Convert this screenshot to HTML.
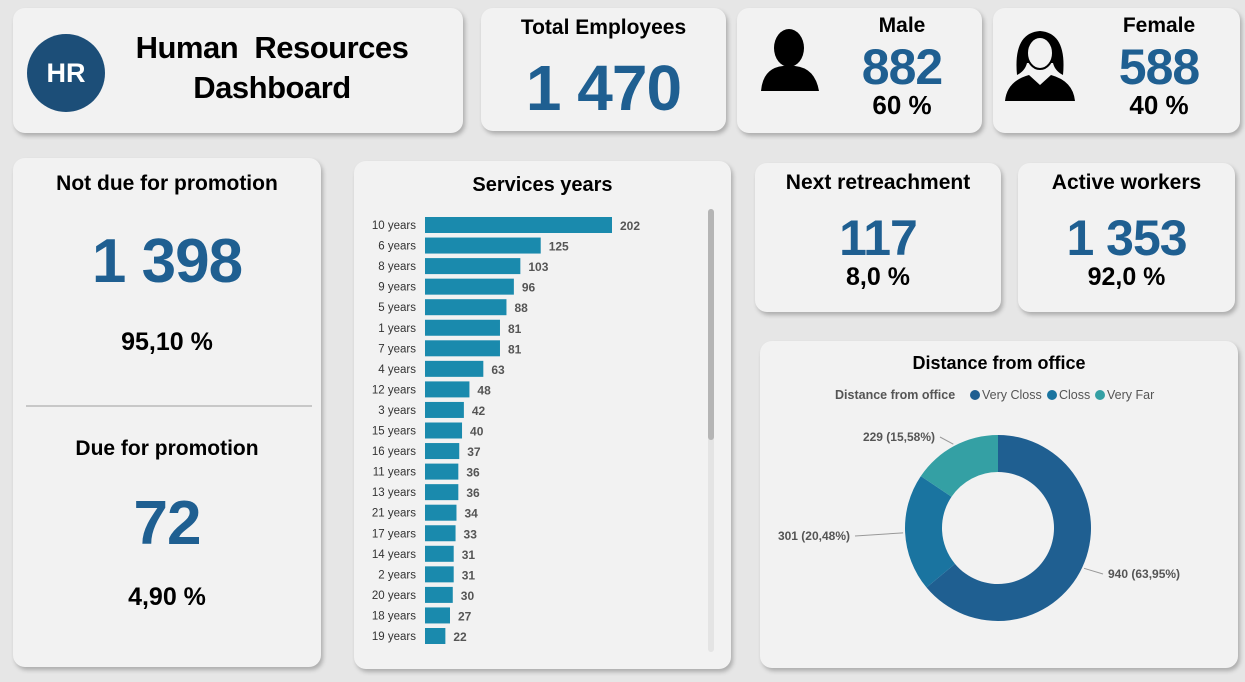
<!DOCTYPE html>
<html><head><meta charset="utf-8"><style>
body{margin:0;width:1245px;height:682px;background:#e6e6e6;font-family:"Liberation Sans",sans-serif;position:relative;overflow:hidden}
.card{position:absolute;background:#f2f2f2;border-radius:12px;box-shadow:2px 3px 4px rgba(0,0,0,0.25)}
.t{position:absolute;left:0;right:0;text-align:center;font-weight:bold;color:#000;white-space:nowrap}
.b{color:#1f5f91;letter-spacing:-1px}
</style></head><body>
<div class="card" style="left:13px;top:8px;width:450px;height:125px">
 <svg style="position:absolute;left:13px;top:25px" width="80" height="80"><circle cx="40" cy="40" r="39" fill="#1c4e78"/><text x="40" y="49" text-anchor="middle" font-family="Liberation Sans" font-weight="bold" font-size="27" fill="#fff">HR</text></svg>
 <div class="t" style="left:100px;right:32px;top:20px;font-size:31px;line-height:40px;letter-spacing:-0.5px">Human&nbsp; Resources<br>Dashboard</div>
</div>
<div class="card" style="left:481px;top:8px;width:245px;height:123px">
 <div class="t" style="top:8px;font-size:21px">Total Employees</div>
 <div class="t b" style="top:43px;font-size:64px">1 470</div>
</div>
<div class="card" style="left:737px;top:8px;width:245px;height:125px">
 <svg style="position:absolute;left:20px;top:20px" width="64" height="64"><ellipse cx="32" cy="20" rx="15" ry="19" fill="#000"/><path d="M4 63 Q6 40 26 38 L38 38 Q58 40 62 63Z" fill="#000"/></svg>
 <div class="t" style="left:85px;top:6px;font-size:21px">Male</div>
 <div class="t b" style="left:85px;top:30px;font-size:50px">882</div>
 <div class="t" style="left:85px;top:82px;font-size:26px">60 %</div>
</div>
<div class="card" style="left:993px;top:8px;width:247px;height:125px">
 <svg style="position:absolute;left:10px;top:15px" width="74" height="78"><path d="M14 52 Q10 10 37 8 Q64 10 60 52 Q52 48 50 40 L24 40 Q22 48 14 52Z" fill="#000"/><ellipse cx="37" cy="30" rx="13" ry="16" fill="#f2f2f2" stroke="#000" stroke-width="2"/><path d="M2 78 Q4 58 26 52 L37 62 L48 52 Q70 58 72 78Z" fill="#000"/></svg>
 <div class="t" style="left:85px;top:6px;font-size:21px">Female</div>
 <div class="t b" style="left:85px;top:30px;font-size:50px">588</div>
 <div class="t" style="left:85px;top:82px;font-size:26px">40 %</div>
</div>
<div class="card" style="left:13px;top:158px;width:308px;height:509px">
 <div class="t" style="top:14px;font-size:21px">Not due for promotion</div>
 <div class="t b" style="top:68px;font-size:62px">1 398</div>
 <div class="t" style="top:170px;font-size:25px">95,10 %</div>
 <div style="position:absolute;left:13px;right:9px;top:247px;height:2px;background:#c8c8c8"></div>
 <div class="t" style="top:279px;font-size:21px">Due for promotion</div>
 <div class="t b" style="top:330px;font-size:62px">72</div>
 <div class="t" style="top:425px;font-size:25px">4,90 %</div>
</div>
<div class="card" style="left:354px;top:161px;width:377px;height:508px">
 <div class="t" style="top:13px;font-size:20px">Services years</div>
 <svg id="bars" style="position:absolute;left:0;top:0" width="377" height="508"></svg>
 <div style="position:absolute;left:354px;top:48px;width:6px;height:443px;background:#e4e4e4;border-radius:3px"><div style="width:6px;height:231px;background:#b5b5b5;border-radius:3px"></div></div>
</div>
<div class="card" style="left:755px;top:163px;width:246px;height:149px">
 <div class="t" style="top:8px;font-size:21px">Next retreachment</div>
 <div class="t b" style="top:46px;font-size:50px">117</div>
 <div class="t" style="top:100px;font-size:25px">8,0 %</div>
</div>
<div class="card" style="left:1018px;top:163px;width:217px;height:149px">
 <div class="t" style="top:8px;font-size:21px">Active workers</div>
 <div class="t b" style="top:46px;font-size:50px">1 353</div>
 <div class="t" style="top:100px;font-size:25px">92,0 %</div>
</div>
<div class="card" style="left:760px;top:341px;width:478px;height:327px">
 <div class="t" style="top:12px;font-size:18px">Distance from office</div>
 <svg id="donut" style="position:absolute;left:0;top:0" width="478" height="327"></svg>
</div>
<script>
const cats=["10 years","6 years","8 years","9 years","5 years","1 years","7 years","4 years","12 years","3 years","15 years","16 years","11 years","13 years","21 years","17 years","14 years","2 years","20 years","18 years","19 years"];
const vals=[202,125,103,96,88,81,81,63,48,42,40,37,36,36,34,33,31,31,30,27,22];
const NS="http://www.w3.org/2000/svg";
const bs=document.getElementById('bars');
const x0=71, xs=v=>v*187/202, yc=i=>64+i*20.55;
cats.forEach((c,i)=>{
 const r=document.createElementNS(NS,'rect');
 
 
 r.setAttribute('x',x0);r.setAttribute('y',yc(i)-8);r.setAttribute('width',xs(vals[i]));r.setAttribute('height',16);r.setAttribute('fill','#1a8aad');
 bs.appendChild(r);
 const l=document.createElementNS(NS,'text');
 
 
 l.setAttribute('x',62);l.setAttribute('y',yc(i)+4);l.setAttribute('text-anchor','end');l.setAttribute('font-size','11.5');l.setAttribute('fill','#333');l.setAttribute('font-family','Liberation Sans');l.textContent=c;bs.appendChild(l);
 const v=document.createElementNS(NS,'text');
 
 
 v.setAttribute('x',x0+xs(vals[i])+8);v.setAttribute('y',yc(i)+5);v.setAttribute('font-size','12');v.setAttribute('font-weight','bold');v.setAttribute('fill','#555');v.setAttribute('font-family','Liberation Sans');v.textContent=vals[i];bs.appendChild(v);
});
const dcats=["Very Closs","Closs","Very Far"];
const dvals=[940,301,229];
const dcols=["#1f5f91","#1a74a0","#34a0a4"];
const ds=document.getElementById('donut');
const cx=238,cy=187,R=93,ri=56,tot=dvals.reduce((a,b)=>a+b,0);
function pt(a,r){return [cx+r*Math.sin(a),cy-r*Math.cos(a)];}
let lx=75;
const lt=document.createElementNS(NS,'text');

lt.setAttribute('x',lx);lt.setAttribute('y',58);lt.setAttribute('font-size','12.5');lt.setAttribute('font-weight','bold');lt.setAttribute('fill','#555');lt.setAttribute('font-family','Liberation Sans');lt.textContent='Distance from office';ds.appendChild(lt);
const lxs=[215,292,340];
dcats.forEach((c,i)=>{
 const g=document.createElementNS(NS,'g');
 
 g.innerHTML=`<circle cx="${lxs[i]}" cy="54" r="5" fill="${dcols[i]}"/><text x="${lxs[i]+7}" y="58" font-size="12.5" fill="#555" font-family="Liberation Sans">${c}</text>`;
 ds.appendChild(g);
});
let a=0;
const labelPos=[[348,237,'start'],[90,199,'end'],[175,100,'end']];
dvals.forEach((v,i)=>{
 const a2=a+v/tot*2*Math.PI;const lg=(a2-a)>Math.PI?1:0;
 const [x1,y1]=pt(a,R),[x2,y2]=pt(a2,R),[x3,y3]=pt(a2,ri),[x4,y4]=pt(a,ri);
 const p=document.createElementNS(NS,'path');
 
 
 p.setAttribute('d',`M${x1} ${y1}A${R} ${R} 0 ${lg} 1 ${x2} ${y2}L${x3} ${y3}A${ri} ${ri} 0 ${lg} 0 ${x4} ${y4}Z`);
 p.setAttribute('fill',dcols[i]);ds.appendChild(p);
 const mid=(a+a2)/2;const [mx,my]=pt(mid,R+2);
 const [lx2,ly2,anc]=labelPos[i];
 const ln=document.createElementNS(NS,'polyline');
 
 ln.setAttribute('points',`${mx},${my} ${anc==='start'?lx2-5:lx2+5},${ly2-4}`);ln.setAttribute('stroke','#999');ln.setAttribute('fill','none');ds.appendChild(ln);
 const t=document.createElementNS(NS,'text');
 
 t.setAttribute('x',lx2);t.setAttribute('y',ly2);t.setAttribute('text-anchor',anc);t.setAttribute('font-size','12');t.setAttribute('font-weight','bold');t.setAttribute('fill','#555');t.setAttribute('font-family','Liberation Sans');
 t.textContent=v+' ('+(v/tot*100).toFixed(2).replace('.',',')+'%)';ds.appendChild(t);
 a=a2;
});
</script>
</body></html>
